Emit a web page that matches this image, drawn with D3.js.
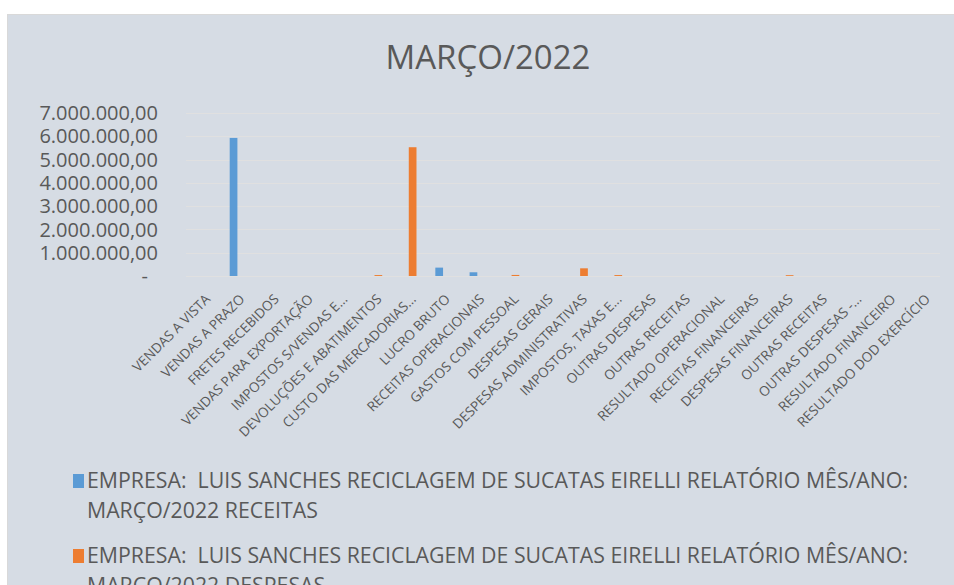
<!DOCTYPE html>
<html>
<head>
<meta charset="utf-8">
<script src="https://cdn.jsdelivr.net/npm/d3@7"></script>
<style>
  body { margin: 0; background: #fff; }
  text { font-family: "Open Sans", sans-serif; fill: #595959; }
</style>
</head>
<body>
<div id="chart"></div>
<script>
const categories = [
  "VENDAS A VISTA", "VENDAS A PRAZO", "FRETES RECEBIDOS", "VENDAS PARA EXPORTAÇÃO",
  "IMPOSTOS S/VENDAS E...", "DEVOLUÇÕES E ABATIMENTOS", "CUSTO DAS MERCADORIAS...",
  "LUCRO BRUTO", "RECEITAS OPERACIONAIS", "GASTOS COM PESSOAL", "DESPESAS GERAIS",
  "DESPESAS ADMINISTRATIVAS", "IMPOSTOS, TAXAS E...", "OUTRAS DESPESAS", "OUTRAS RECEITAS",
  "RESULTADO OPERACIONAL", "RECEITAS FINANCEIRAS", "DESPESAS FINANCEIRAS", "OUTRAS RECEITAS",
  "OUTRAS DESPESAS -...", "RESULTADO FINANCEIRO", "RESULTADO DOD EXERCÍCIO"
];
const receitas = [0, 5930000, 0, 0, 0, 0, 0, 360000, 160000, 0, 0, 0, 0, 0, 0, 0, 0, 0, 0, 0, 0, 0];
const despesas = [0, 0, 0, 0, 0, 40000, 5530000, 0, 0, 45000, 0, 330000, 40000, 0, 0, 0, 0, 35000, 0, 0, 0, 0];
const yTicks = [0, 1000000, 2000000, 3000000, 4000000, 5000000, 6000000, 7000000];
const seriesNames = [
  "EMPRESA:  LUIS SANCHES RECICLAGEM DE SUCATAS EIRELLI RELATÓRIO MÊS/ANO: MARÇO/2022 RECEITAS",
  "EMPRESA:  LUIS SANCHES RECICLAGEM DE SUCATAS EIRELLI RELATÓRIO MÊS/ANO: MARÇO/2022 DESPESAS"
];
const colors = ["#5b9bd5", "#ed7d31"];

let width = 954,
    height = 585;

const svg = d3.select("#chart").append("svg")
    .attr("width", width)
    .attr("height", height);

svg.append("rect")
    .attr("x", 7.5).attr("y", 14.5)
    .attr("width", 980).attr("height", 620)
    .attr("fill", "#d6dce4")
    .attr("stroke", "#d9d9d9");

svg.append("text")
    .attr("x", 488).attr("y", 69)
    .attr("text-anchor", "middle")
    .style("font-size", "33px")
    .text("MARÇO/2022");

const plotLeft = 186, plotRight = 940, plotTop = 113, plotBottom = 276;

const x0 = d3.scaleBand()
    .domain(d3.range(categories.length))
    .range([plotLeft, plotRight])
    .paddingInner(0.55)
    .paddingOuter(0.275);

const x1 = d3.scaleBand()
    .domain([0, 1])
    .range([0, x0.bandwidth()]);

const y = d3.scaleLinear()
    .domain([0, 7000000])
    .range([plotBottom, plotTop]);

const fmt = d3.formatLocale({ decimal: ",", thousands: ".", grouping: [3], currency: ["", ""] }).format(",.2f");

// grid
svg.append("g").selectAll("line")
    .data(yTicks)
    .enter().append("line")
    .attr("x1", plotLeft).attr("x2", plotRight)
    .attr("y1", d => Math.round(y(d)) + 0.5)
    .attr("y2", d => Math.round(y(d)) + 0.5)
    .attr("stroke", "#e0e0e0");

// y labels
svg.append("g").selectAll("text")
    .data(yTicks)
    .enter().append("text")
    .attr("x", d => d === 0 ? 148 : 158)
    .attr("y", d => y(d))
    .attr("dy", "0.36em")
    .attr("text-anchor", "end")
    .style("font-size", "20px")
    .text(d => d === 0 ? "-" : fmt(d));

// bars
const series = [receitas, despesas];
series.forEach(function (vals, s) {
  svg.append("g").selectAll("rect")
      .data(vals)
      .enter().append("rect")
      .attr("x", (d, i) => x0(i) + x1(s))
      .attr("width", x1.bandwidth())
      .attr("y", d => y(d))
      .attr("height", d => plotBottom - y(d))
      .attr("fill", colors[s]);
});

// x labels
svg.append("g").selectAll("text")
    .data(categories)
    .enter().append("text")
    .attr("transform", (d, i) => "translate(" + (x0(i) + x0.bandwidth() / 2 + 8) + "," + 300 + ") rotate(-45)")
    .attr("text-anchor", "end")
    .style("font-size", "13.6px")
    .text(d => d);

// legend
const legend = svg.append("g");
seriesNames.forEach(function (name, s) {
  const base = 488 + s * 75;
  legend.append("rect")
      .attr("x", 73).attr("y", base - 14)
      .attr("width", 11).attr("height", 14)
      .attr("fill", colors[s]);
  const cut = name.indexOf("MARÇO/2022");
  const t = legend.append("text")
      .attr("x", 87).attr("y", base)
      .style("font-size", "21.3px")
      .style("white-space", "pre");
  t.append("tspan").attr("x", 87).text(name.slice(0, cut).trim());
  t.append("tspan").attr("x", 87).attr("dy", 30).text(name.slice(cut));
});
</script>
</body>
</html>
